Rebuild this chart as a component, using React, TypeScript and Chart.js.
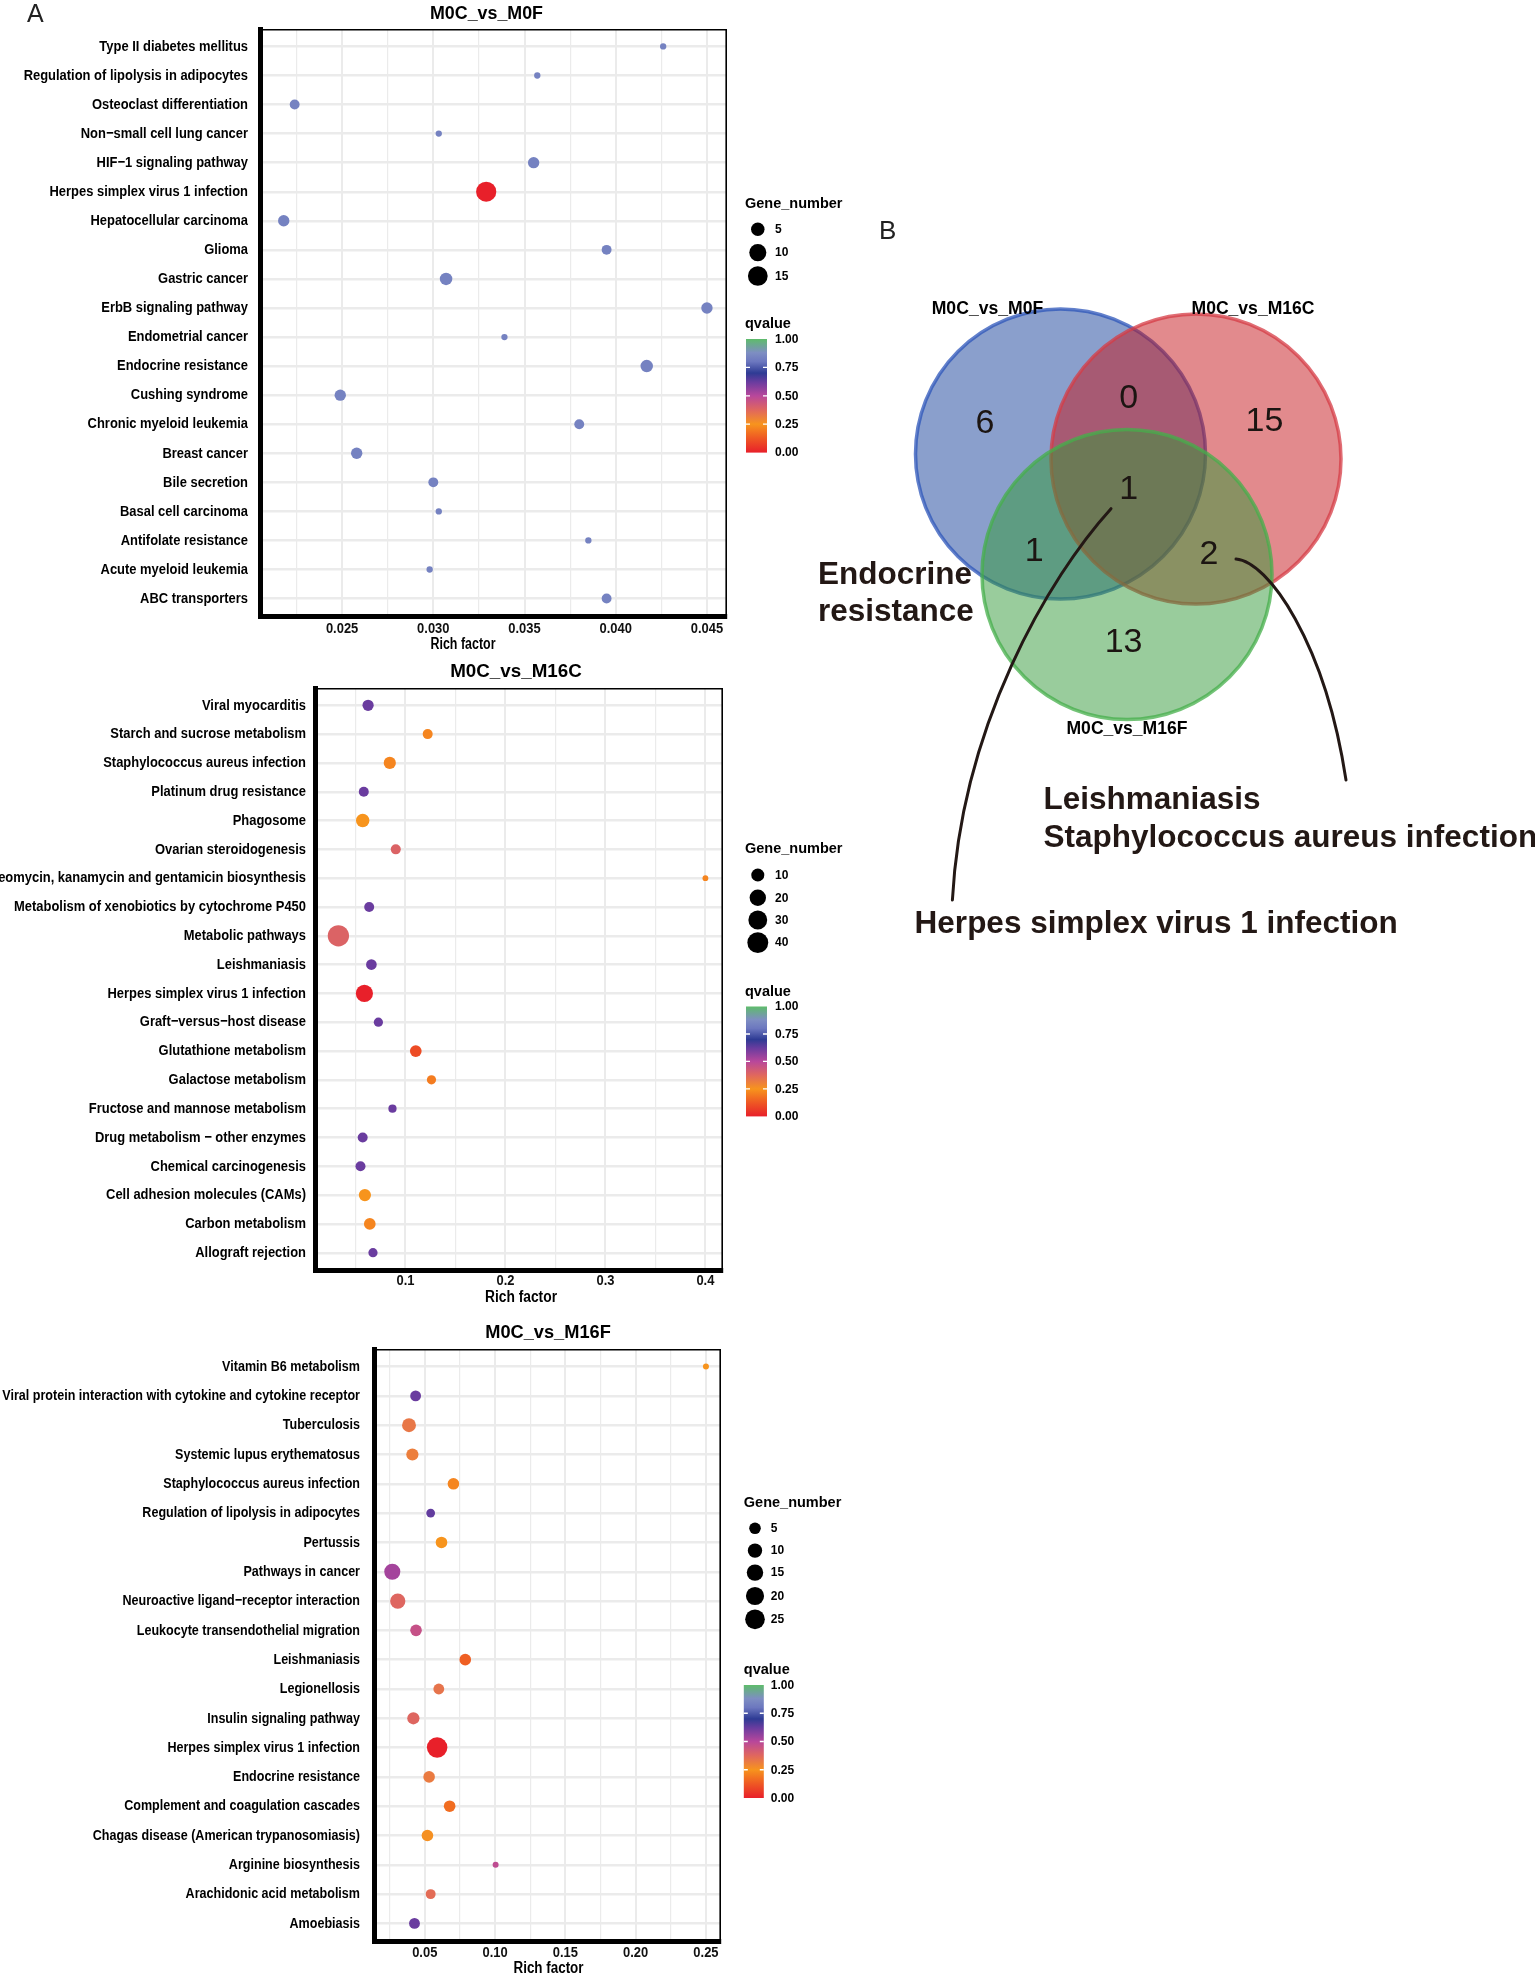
import React, { useEffect, useRef } from 'react';
import { Chart, registerables } from 'chart.js';

Chart.register(...registerables);

if (typeof document !== 'undefined') {
  document.body.style.margin = '0';
}

// ===================== DATA =====================
const m0fTitle = 'M0C_vs_M0F';
const m0fCategories = [
  'Type II diabetes mellitus',
  'Regulation of lipolysis in adipocytes',
  'Osteoclast differentiation',
  'Non\u2212small cell lung cancer',
  'HIF\u22121 signaling pathway',
  'Herpes simplex virus 1 infection',
  'Hepatocellular carcinoma',
  'Glioma',
  'Gastric cancer',
  'ErbB signaling pathway',
  'Endometrial cancer',
  'Endocrine resistance',
  'Cushing syndrome',
  'Chronic myeloid leukemia',
  'Breast cancer',
  'Bile secretion',
  'Basal cell carcinoma',
  'Antifolate resistance',
  'Acute myeloid leukemia',
  'ABC transporters',
];
const m0fRichFactor = [0.0426, 0.0357, 0.0224, 0.0303, 0.0355, 0.0329, 0.0218, 0.0395, 0.0307, 0.045, 0.0339, 0.0417, 0.0249, 0.038, 0.0258, 0.03, 0.0303, 0.0385, 0.0298, 0.0395];
const m0fGeneNumber = [1, 1, 2, 1, 3, 16, 3, 2, 4, 3, 1, 4, 3, 2, 3, 2, 1, 1, 1, 2];
const m0fQvalue = [0.84, 0.84, 0.84, 0.84, 0.84, 0.0, 0.84, 0.84, 0.84, 0.84, 0.84, 0.84, 0.84, 0.84, 0.84, 0.84, 0.84, 0.84, 0.84, 0.84];
const m0fXTicks = [0.025, 0.03, 0.035, 0.04, 0.045];
const m0fSizeBreaks = [5, 10, 15];

const m16cTitle = 'M0C_vs_M16C';
const m16cCategories = [
  'Viral myocarditis',
  'Starch and sucrose metabolism',
  'Staphylococcus aureus infection',
  'Platinum drug resistance',
  'Phagosome',
  'Ovarian steroidogenesis',
  'Neomycin, kanamycin and gentamicin biosynthesis',
  'Metabolism of xenobiotics by cytochrome P450',
  'Metabolic pathways',
  'Leishmaniasis',
  'Herpes simplex virus 1 infection',
  'Graft\u2212versus\u2212host disease',
  'Glutathione metabolism',
  'Galactose metabolism',
  'Fructose and mannose metabolism',
  'Drug metabolism \u2212 other enzymes',
  'Chemical carcinogenesis',
  'Cell adhesion molecules (CAMs)',
  'Carbon metabolism',
  'Allograft rejection',
];
const m16cRichFactor = [0.0626, 0.1222, 0.0843, 0.0583, 0.0572, 0.0903, 0.4, 0.0637, 0.0329, 0.0659, 0.0589, 0.0729, 0.1103, 0.126, 0.087, 0.0572, 0.055, 0.0594, 0.0643, 0.0675];
const m16cGeneNumber = [6, 4, 8, 4, 11, 4, 1, 4, 42, 5, 23, 3, 7, 3, 2, 4, 4, 8, 7, 3];
const m16cQvalue = [0.62, 0.22, 0.22, 0.62, 0.25, 0.39, 0.22, 0.62, 0.39, 0.62, 0.0, 0.62, 0.1, 0.2, 0.62, 0.62, 0.62, 0.25, 0.22, 0.62];
const m16cXTicks = [0.1, 0.2, 0.3, 0.4];
const m16cSizeBreaks = [10, 20, 30, 40];

const m16fTitle = 'M0C_vs_M16F';
const m16fCategories = [
  'Vitamin B6 metabolism',
  'Viral protein interaction with cytokine and cytokine receptor',
  'Tuberculosis',
  'Systemic lupus erythematosus',
  'Staphylococcus aureus infection',
  'Regulation of lipolysis in adipocytes',
  'Pertussis',
  'Pathways in cancer',
  'Neuroactive ligand\u2212receptor interaction',
  'Leukocyte transendothelial migration',
  'Leishmaniasis',
  'Legionellosis',
  'Insulin signaling pathway',
  'Herpes simplex virus 1 infection',
  'Endocrine resistance',
  'Complement and coagulation cascades',
  'Chagas disease (American trypanosomiasis)',
  'Arginine biosynthesis',
  'Arachidonic acid metabolism',
  'Amoebiasis',
];
const m16fRichFactor = [0.25, 0.0435, 0.0388, 0.0412, 0.0704, 0.0542, 0.0619, 0.0269, 0.0308, 0.0438, 0.0788, 0.06, 0.0419, 0.0588, 0.0531, 0.0677, 0.0519, 0.1004, 0.0542, 0.0427];
const m16fGeneNumber = [1, 4, 9, 6, 5, 2, 5, 14, 12, 5, 5, 4, 6, 28, 5, 5, 5, 1, 3, 4];
const m16fQvalue = [0.25, 0.62, 0.33, 0.31, 0.22, 0.63, 0.25, 0.53, 0.38, 0.46, 0.14, 0.34, 0.38, 0.0, 0.32, 0.17, 0.26, 0.48, 0.36, 0.62];
const m16fXTicks = [0.05, 0.1, 0.15, 0.2, 0.25];
const m16fSizeBreaks = [5, 10, 15, 20, 25];

const qvalueTicks = [0, 0.25, 0.5, 0.75, 1];
const xAxisTitle = 'Rich factor';
const sizeLegendTitle = 'Gene_number';
const colorLegendTitle = 'qvalue';

const vennSetNames = ['M0C_vs_M0F', 'M0C_vs_M16C', 'M0C_vs_M16F'];
// regions: M0F only, M0F∩M16C, M16C only, all three, M0F∩M16F, M16C∩M16F, M16F only
const vennRegionCounts = [6, 0, 15, 1, 1, 2, 13];
const vennNoteLines = [
  ['Endocrine', 'resistance'],
  ['Leishmaniasis', 'Staphylococcus aureus infection'],
  ['Herpes simplex virus 1 infection'],
];
const panelLetters = ['A', 'B'];

// ===================== STYLE / LAYOUT =====================
const SANS = "'Liberation Sans', Arial, Helvetica, sans-serif";
const SX = 0.835; // horizontal condensation of the plot text
const PANEL_W = 860;

const Q_STOPS: [number, string][] = [
  [0.0, '#E8202A'],
  [0.12, '#EE5524'],
  [0.25, '#F7941D'],
  [0.375, '#E0675E'],
  [0.5, '#B8479B'],
  [0.62, '#6A3C9F'],
  [0.7, '#2E3B94'],
  [0.8, '#6C77BF'],
  [0.88, '#7E8EC2'],
  [1.0, '#5EBC6B'],
];

function hexRgb(h: string) {
  return [parseInt(h.slice(1, 3), 16), parseInt(h.slice(3, 5), 16), parseInt(h.slice(5, 7), 16)];
}
function qColor(q: number) {
  const v = Math.max(0, Math.min(1, q));
  for (let i = 0; i < Q_STOPS.length - 1; i++) {
    const [a, ca] = Q_STOPS[i];
    const [b, cb] = Q_STOPS[i + 1];
    if (v >= a && v <= b) {
      const t = (v - a) / (b - a);
      const A = hexRgb(ca), B = hexRgb(cb);
      return `rgb(${Math.round(A[0] + (B[0] - A[0]) * t)},${Math.round(A[1] + (B[1] - A[1]) * t)},${Math.round(A[2] + (B[2] - A[2]) * t)})`;
    }
  }
  return Q_STOPS[Q_STOPS.length - 1][1];
}

// draw bold text, horizontally condensed by sx
function narrowText(ctx: CanvasRenderingContext2D, text: string, x: number, y: number, size: number, align: CanvasTextAlign, sx = SX) {
  ctx.save();
  ctx.font = `bold ${size}px ${SANS}`;
  ctx.textAlign = align;
  ctx.textBaseline = 'middle';
  ctx.translate(x, y);
  ctx.scale(sx, 1);
  ctx.fillText(text, 0, 0);
  ctx.restore();
}
// horizontal factor so that text at a given size has width w
function sxFor(ctx: CanvasRenderingContext2D, text: string, size: number, w: number) {
  ctx.font = `bold ${size}px ${SANS}`;
  return w / ctx.measureText(text).width;
}

const LAYOUT_M0F = {
  top: 0, height: 660,
  box: { l: 260, r: 727, t: 29, b: 616 },
  xMin: 0.0205, xMax: 0.0461, decimals: 3,
  title: { x: 486.5, y: 14, w: 113 },
  axisTitle: { x: 463, y: 644.7, w: 65 },
  tickY: 628.7, labelPad: 12, labelSx: SX,
  dotD: [6.3, 20.2],
  legend: { x: 745, geneY: 204, circleX: 757.8, circleYs: [229.3, 252.6, 276], labelX: 775, qY: 324, barX: 746, barW: 21, barTop: 339, barBottom: 452.6 },
  letter: { x: 27, y: 15.5, size: 25 },
};
const LAYOUT_M16C = {
  top: 650, height: 662,
  box: { l: 315, r: 723, t: 688, b: 1270 },
  xMin: 0.0095, xMax: 0.4176, decimals: 1,
  title: { x: 516, y: 672, w: 131.6 },
  axisTitle: { x: 521, y: 1297.6, w: 72 },
  tickY: 1281, labelPad: 9, labelSx: SX,
  dotD: [5.8, 21.3],
  legend: { x: 745, geneY: 849.3, circleX: 757.8, circleYs: [875, 897.7, 920, 942.6], labelX: 775, qY: 991.7, barX: 746, barW: 21, barTop: 1006.5, barBottom: 1116.4 },
  letter: null as any,
};
const LAYOUT_M16F = {
  top: 1305, height: 671,
  box: { l: 374, r: 721, t: 1349, b: 1941 },
  xMin: 0.0139, xMax: 0.2607, decimals: 2,
  title: { x: 548, y: 1333, w: 125.6 },
  axisTitle: { x: 548.5, y: 1968.8, w: 70 },
  tickY: 1952.7, labelPad: 14, labelSx: 0.81,
  dotD: [6, 20.5],
  legend: { x: 743.8, geneY: 1502.7, circleX: 755, circleYs: [1528.3, 1550.6, 1572.6, 1596, 1619.3], labelX: 770.8, qY: 1670, barX: 743.8, barW: 20, barTop: 1685, barBottom: 1798 },
  letter: null as any,
};

const VENN = {
  left: 800, top: 190, width: 735, height: 790,
  centers: [[1060.5, 454], [1196, 459], [1127, 574.5]],
  radius: 145,
  fills: ['rgba(21,63,153,0.5)', 'rgba(197,21,27,0.5)', 'rgba(51,153,57,0.5)'],
  borders: ['rgba(45,85,185,0.75)', 'rgba(214,60,70,0.75)', 'rgba(70,175,75,0.75)'],
  setLabelPos: [[987.5, 308.5], [1253, 308.5], [1127, 729]],
  setLabelW: [111.6, 123, 121],
  countPos: [[985, 423], [1128.6, 397.6], [1264.5, 420.2], [1128.6, 488.2], [1034.2, 551], [1209, 553.6], [1123.6, 641.7]],
  notePos: [[818, 575.7, 36.5], [1043.5, 800.5, 38.3], [914.6, 924.8, 0]],
  leaders: [
    [[1111, 508.7], [1048.7, 577.2], [961.6, 726.2], [952.4, 900]],
    [[1236, 559], [1268, 561.5], [1325, 642], [1346, 780]],
  ],
  letter: { x: 879, y: 231.5, size: 26 },
};

// ===================== PANEL CHART =====================
type PanelData = {
  title: string; categories: string[]; rich: number[]; genes: number[]; q: number[]; xTicks: number[]; sizeBreaks: number[];
};

const M0F: PanelData = { title: m0fTitle, categories: m0fCategories, rich: m0fRichFactor, genes: m0fGeneNumber, q: m0fQvalue, xTicks: m0fXTicks, sizeBreaks: m0fSizeBreaks };
const M16C: PanelData = { title: m16cTitle, categories: m16cCategories, rich: m16cRichFactor, genes: m16cGeneNumber, q: m16cQvalue, xTicks: m16cXTicks, sizeBreaks: m16cSizeBreaks };
const M16F: PanelData = { title: m16fTitle, categories: m16fCategories, rich: m16fRichFactor, genes: m16fGeneNumber, q: m16fQvalue, xTicks: m16fXTicks, sizeBreaks: m16fSizeBreaks };

function buildPanelConfig(d: PanelData, L: any): any {
  const n = d.categories.length;
  const gMin = Math.min(...d.genes), gMax = Math.max(...d.genes);
  const diam = (g: number) => L.dotD[0] + (L.dotD[1] - L.dotD[0]) * Math.sqrt(Math.max(0, (g - gMin) / (gMax - gMin)));
  const major = d.xTicks[1] - d.xTicks[0];
  const half = major / 2;
  const gridVals: number[] = [];
  for (let k = Math.ceil(L.xMin / half - 1e-9); k * half <= L.xMax + 1e-12; k++) gridVals.push(+(k * half).toFixed(6));
  const isMajor = (v: number) => d.xTicks.some((m) => Math.abs(m - v) < half * 1e-3);
  const T = L.top;
  const boxTop = L.box.t - T, boxBottom = L.box.b - T;

  const decor = {
    id: 'panelDecor',
    afterDatasetsDraw(chart: any) {
      const { ctx, chartArea: a } = chart;
      ctx.save();
      ctx.strokeStyle = '#000';
      ctx.lineWidth = 1.6;
      ctx.beginPath();
      ctx.moveTo(a.left, a.top + 0.8);
      ctx.lineTo(a.right - 0.8, a.top + 0.8);
      ctx.lineTo(a.right - 0.8, a.bottom);
      ctx.stroke();
      ctx.restore();
    },
    afterDraw(chart: any) {
      const ctx: CanvasRenderingContext2D = chart.ctx;
      const xs = chart.scales.x, ys = chart.scales.y;
      ctx.save();
      ctx.fillStyle = '#000';
      // category labels (y axis)
      d.categories.forEach((c, i) => {
        narrowText(ctx, c, L.box.l - L.labelPad, ys.getPixelForValue(i), 15.5, 'right', L.labelSx);
      });
      // x tick labels
      ctx.fillStyle = '#111';
      d.xTicks.forEach((v) => {
        narrowText(ctx, v.toFixed(L.decimals), xs.getPixelForValue(v), L.tickY - T, 15.5, 'center');
      });
      ctx.fillStyle = '#000';
      // title
      narrowText(ctx, d.title, L.title.x, L.title.y - T, 19, 'center', sxFor(ctx, d.title, 19, L.title.w));
      // axis title
      narrowText(ctx, xAxisTitle, L.axisTitle.x, L.axisTitle.y - T, 16, 'center', sxFor(ctx, xAxisTitle, 16, L.axisTitle.w));
      // letter
      ctx.textBaseline = 'middle';
      if (L.letter) {
        ctx.textAlign = 'left';
        ctx.fillStyle = '#222';
        ctx.font = `normal ${L.letter.size}px ${SANS}`;
        ctx.fillText(panelLetters[0], L.letter.x, L.letter.y - T);
      }
      // size legend
      const lg = L.legend;
      ctx.fillStyle = '#000';
      ctx.textAlign = 'left';
      ctx.font = `bold 14.5px ${SANS}`;
      ctx.fillText(sizeLegendTitle, lg.x, lg.geneY - T);
      ctx.font = `bold 12px ${SANS}`;
      d.sizeBreaks.forEach((b, i) => {
        ctx.beginPath();
        ctx.arc(lg.circleX, lg.circleYs[i] - T, diam(b) / 2, 0, Math.PI * 2);
        ctx.fill();
        ctx.fillText(String(b), lg.labelX, lg.circleYs[i] - T + 0.5);
      });
      // colour legend
      ctx.font = `bold 14.5px ${SANS}`;
      ctx.fillText(colorLegendTitle, lg.x, lg.qY - T);
      const y0 = lg.barBottom - T, y1 = lg.barTop - T;
      const grad = ctx.createLinearGradient(0, y0, 0, y1);
      Q_STOPS.forEach(([s, c]) => grad.addColorStop(s, c));
      ctx.fillStyle = grad;
      ctx.fillRect(lg.barX, y1, lg.barW, y0 - y1);
      ctx.strokeStyle = '#fff';
      ctx.lineWidth = 1.3;
      qvalueTicks.forEach((q) => {
        if (q <= 0 || q >= 1) return;
        const yy = y0 - q * (y0 - y1);
        ctx.beginPath();
        ctx.moveTo(lg.barX, yy); ctx.lineTo(lg.barX + 4, yy);
        ctx.moveTo(lg.barX + lg.barW - 4, yy); ctx.lineTo(lg.barX + lg.barW, yy);
        ctx.stroke();
      });
      ctx.fillStyle = '#000';
      ctx.font = `bold 12px ${SANS}`;
      qvalueTicks.forEach((q) => {
        const yy = y0 - q * (y0 - y1);
        ctx.fillText(q.toFixed(2), lg.labelX, yy + 0.5);
      });
      ctx.restore();
    },
  };

  return {
    type: 'bubble',
    data: {
      datasets: [
        {
          data: d.categories.map((_, i) => ({ x: d.rich[i], y: i, r: diam(d.genes[i]) / 2 })),
          backgroundColor: d.q.map(qColor),
          borderWidth: 0,
          hoverBorderWidth: 0,
        },
      ],
    },
    options: {
      responsive: false,
      animation: false,
      events: [],
      layout: { autoPadding: false, padding: { left: 0, top: boxTop, right: PANEL_W - L.box.r, bottom: 0 } },
      plugins: { legend: { display: false }, tooltip: { enabled: false }, title: { display: false } },
      scales: {
        x: {
          type: 'linear',
          position: 'bottom',
          min: L.xMin,
          max: L.xMax,
          afterBuildTicks: (s: any) => { s.ticks = gridVals.map((v) => ({ value: v })); },
          afterFit: (s: any) => { s.height = L.height - boxBottom; },
          ticks: { display: false, autoSkip: false, maxRotation: 0 },
          grid: {
            drawTicks: false,
            color: '#EBEBEB',
            lineWidth: (c: any) => (c.tick && isMajor(c.tick.value) ? 2 : 1.2),
          },
          border: { display: true, color: '#000', width: 5 },
        },
        y: {
          type: 'linear',
          position: 'left',
          reverse: true,
          min: -0.6,
          max: n - 1 + 0.6,
          afterBuildTicks: (s: any) => { s.ticks = d.categories.map((_, i) => ({ value: i })); },
          afterFit: (s: any) => { s.width = L.box.l; },
          ticks: { display: false, autoSkip: false },
          grid: { drawTicks: false, color: '#EBEBEB', lineWidth: 2.4 },
          border: { display: true, color: '#000', width: 5 },
        },
      },
    },
    plugins: [decor],
  };
}

// ===================== VENN CHART =====================
function buildVennConfig(): any {
  const decor = {
    id: 'vennDecor',
    afterDatasetsDraw(chart: any) {
      const ctx: CanvasRenderingContext2D = chart.ctx;
      const px = (x: number) => chart.scales.x.getPixelForValue(x);
      const py = (y: number) => chart.scales.y.getPixelForValue(y);
      ctx.save();
      // leader curves
      ctx.strokeStyle = '#231815';
      ctx.lineWidth = 3;
      ctx.lineCap = 'round';
      VENN.leaders.forEach((p) => {
        ctx.beginPath();
        ctx.moveTo(px(p[0][0]), py(p[0][1]));
        ctx.bezierCurveTo(px(p[1][0]), py(p[1][1]), px(p[2][0]), py(p[2][1]), px(p[3][0]), py(p[3][1]));
        ctx.stroke();
      });
      // counts
      ctx.fillStyle = '#1c1512';
      ctx.textAlign = 'center';
      ctx.textBaseline = 'middle';
      ctx.font = `normal 34px ${SANS}`;
      vennRegionCounts.forEach((c, i) => {
        ctx.fillText(String(c), px(VENN.countPos[i][0]), py(VENN.countPos[i][1]) + 1);
      });
      // set names
      ctx.fillStyle = '#000';
      vennSetNames.forEach((s, i) => {
        narrowText(ctx, s, px(VENN.setLabelPos[i][0]), py(VENN.setLabelPos[i][1]), 19, 'center', sxFor(ctx, s, 19, VENN.setLabelW[i]));
      });
      // notes
      ctx.fillStyle = '#231815';
      ctx.textAlign = 'left';
      ctx.textBaseline = 'middle';
      ctx.font = `bold 31.5px ${SANS}`;
      vennNoteLines.forEach((lines, i) => {
        const [x, y, lh] = VENN.notePos[i];
        lines.forEach((t, j) => ctx.fillText(t, px(x), py(y + j * lh)));
      });
      // letter B
      ctx.fillStyle = '#222';
      ctx.font = `normal ${VENN.letter.size}px ${SANS}`;
      ctx.fillText(panelLetters[1], px(VENN.letter.x), py(VENN.letter.y));
      ctx.restore();
    },
  };
  return {
    type: 'bubble',
    data: {
      datasets: [
        {
          data: vennSetNames.map((_, i) => ({ x: VENN.centers[i][0], y: VENN.centers[i][1], r: VENN.radius })),
          backgroundColor: VENN.fills,
          borderColor: VENN.borders,
          borderWidth: 3.5,
          hoverBorderWidth: 3.5,
          clip: false,
        },
      ],
    },
    options: {
      responsive: false,
      animation: false,
      events: [],
      layout: { autoPadding: false, padding: 0 },
      plugins: { legend: { display: false }, tooltip: { enabled: false } },
      scales: {
        x: { type: 'linear', display: false, min: VENN.left, max: VENN.left + VENN.width },
        y: { type: 'linear', display: false, reverse: true, min: VENN.top, max: VENN.top + VENN.height },
      },
    },
    plugins: [decor],
  };
}

// ===================== COMPONENTS =====================
function ChartBox(props: { make: () => any; left: number; top: number; width: number; height: number }) {
  const ref = useRef<HTMLCanvasElement | null>(null);
  useEffect(() => {
    if (!ref.current) return;
    const chart = new Chart(ref.current, props.make());
    return () => chart.destroy();
  }, []);
  return (
    <canvas
      ref={ref}
      width={props.width}
      height={props.height}
      style={{ position: 'absolute', left: props.left, top: props.top, width: props.width, height: props.height }}
    />
  );
}

export default function App() {
  return (
    <div style={{ position: 'relative', width: 1535, height: 1976, background: '#fff', overflow: 'hidden' }}>
      <ChartBox make={() => buildPanelConfig(M0F, LAYOUT_M0F)} left={0} top={LAYOUT_M0F.top} width={PANEL_W} height={LAYOUT_M0F.height} />
      <ChartBox make={() => buildPanelConfig(M16C, LAYOUT_M16C)} left={0} top={LAYOUT_M16C.top} width={PANEL_W} height={LAYOUT_M16C.height} />
      <ChartBox make={() => buildPanelConfig(M16F, LAYOUT_M16F)} left={0} top={LAYOUT_M16F.top} width={PANEL_W} height={LAYOUT_M16F.height} />
      <ChartBox make={buildVennConfig} left={VENN.left} top={VENN.top} width={VENN.width} height={VENN.height} />
    </div>
  );
}
